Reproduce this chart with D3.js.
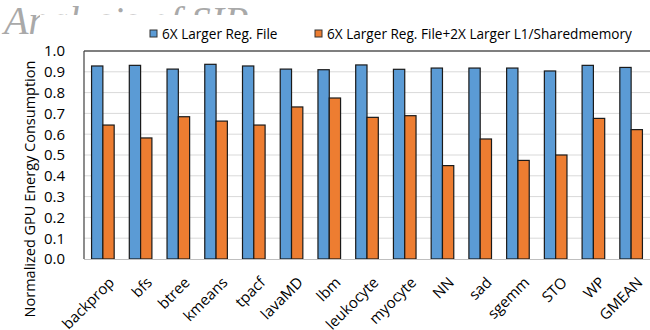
<!DOCTYPE html>
<html>
<head>
<meta charset="utf-8">
<script src="https://cdn.jsdelivr.net/npm/d3@7/dist/d3.min.js"></script>
<style>
  html, body { margin: 0; padding: 0; background: #fff; }
  svg { display: block; }
  text { font-family: "Open Sans", "Noto Sans", sans-serif; }
</style>
</head>
<body>
<svg id="chart" width="650" height="330"></svg>
<script>
// Benchmarks on the x axis
const categories = ["backprop", "bfs", "btree", "kmeans", "tpacf", "lavaMD", "lbm",
  "leukocyte", "myocyte", "NN", "sad", "sgemm", "STO", "WP", "GMEAN"];

// Normalized GPU energy consumption per configuration
const regFile6x = [0.928, 0.931, 0.913, 0.936, 0.928, 0.913, 0.910,
  0.933, 0.912, 0.918, 0.918, 0.918, 0.904, 0.931, 0.921];
const regFile6xL1x2 = [0.644, 0.582, 0.684, 0.663, 0.644, 0.731, 0.774,
  0.681, 0.689, 0.449, 0.577, 0.474, 0.500, 0.676, 0.622];

const seriesNames = ["6X Larger Reg. File", "6X Larger Reg. File+2X Larger L1/Sharedmemory"];
const seriesColors = ["#5b9bd5", "#ed7d31"];
const yTicks = [0, 0.1, 0.2, 0.3, 0.4, 0.5, 0.6, 0.7, 0.8, 0.9, 1.0];

const svg = d3.select("#chart");

// Slide heading sitting behind the chart box
svg.append("text")
  .attr("x", 4).attr("y", 34)
  .style("font-family", "'Liberation Serif', 'DejaVu Serif', serif")
  .style("font-style", "italic")
  .style("font-size", "40px")
  .attr("fill", "#a9a9a9")
  .text("Analysis of SIP");

svg.append("rect")
  .attr("x", 40).attr("y", 15).attr("width", 610).attr("height", 315)
  .attr("fill", "#fff");

const plot = { left: 84, right: 650, top: 51, bottom: 259 };

const x = d3.scaleBand().domain(categories).range([plot.left, plot.right]).padding(0);
const y = d3.scaleLinear().domain([0, 1]).range([plot.bottom, plot.top]);
const barW = 11.3;

// Gridlines
svg.append("g")
  .selectAll("line")
  .data(yTicks.filter(t => t > 0 && t < 1))
  .join("line")
  .attr("x1", plot.left).attr("x2", plot.right)
  .attr("y1", d => y(d)).attr("y2", d => y(d))
  .attr("stroke", "#d9d9d9").attr("stroke-width", 1);

// Y axis tick labels
const yAxis = d3.axisLeft(y).tickValues(yTicks).tickFormat(d3.format(".1f")).tickSize(0).tickPadding(19);
const yg = svg.append("g").attr("transform", `translate(${plot.left},0)`).call(yAxis);
yg.select(".domain").remove();
yg.selectAll("text").style("font-size", "15px").attr("fill", "#000")
  .style("font-family", "'Open Sans', sans-serif");

// Bars
const series = [regFile6x, regFile6xL1x2];
series.forEach((vals, si) => {
  svg.append("g")
    .selectAll("rect")
    .data(vals)
    .join("rect")
    .attr("x", (d, i) => x(categories[i]) + x.bandwidth() / 2 - barW + si * barW)
    .attr("y", d => y(d))
    .attr("width", barW)
    .attr("height", d => y(0) - y(d))
    .attr("fill", seriesColors[si])
    .attr("stroke", "#1a1a1a")
    .attr("stroke-width", 1.2);
});

// Plot frame
svg.append("line")
  .attr("x1", plot.left).attr("x2", plot.right)
  .attr("y1", plot.top).attr("y2", plot.top)
  .attr("stroke", "#000").attr("stroke-width", 1.2);
svg.append("line")
  .attr("x1", plot.left).attr("x2", plot.left)
  .attr("y1", plot.top).attr("y2", plot.bottom)
  .attr("stroke", "#404040").attr("stroke-width", 1.2);
svg.append("line")
  .attr("x1", plot.left).attr("x2", plot.right)
  .attr("y1", plot.bottom + 0.5).attr("y2", plot.bottom + 0.5)
  .attr("stroke", "#bfbfbf").attr("stroke-width", 1.2);

// X axis labels, rotated
svg.append("g")
  .selectAll("text")
  .data(categories)
  .join("text")
  .attr("transform", d => `translate(${x(d) + x.bandwidth() / 2 + 5},${plot.bottom + 17}) rotate(-45)`)
  .attr("text-anchor", "end")
  .attr("dy", "0.7em")
  .style("font-size", "15px")
  .attr("fill", "#000")
  .text(d => d);

// Y axis title
svg.append("text")
  .attr("transform", "translate(30,189) rotate(-90)")
  .attr("text-anchor", "middle")
  .attr("dy", "0.35em")
  .style("font-size", "14.5px")
  .attr("fill", "#000")
  .text("Normalized GPU Energy Consumption");

// Legend
const legendX = [150, 315];
seriesNames.forEach((name, i) => {
  const g = svg.append("g").attr("transform", `translate(${legendX[i]},30)`);
  g.append("rect").attr("x", 0).attr("y", 0).attr("width", 7).attr("height", 7)
    .attr("fill", seriesColors[i]).attr("stroke", "#333").attr("stroke-width", 1);
  g.append("text").attr("x", 12).attr("y", 8.5)
    .style("font-size", "13.6px").attr("fill", "#000").text(name);
});
</script>
</body>
</html>
